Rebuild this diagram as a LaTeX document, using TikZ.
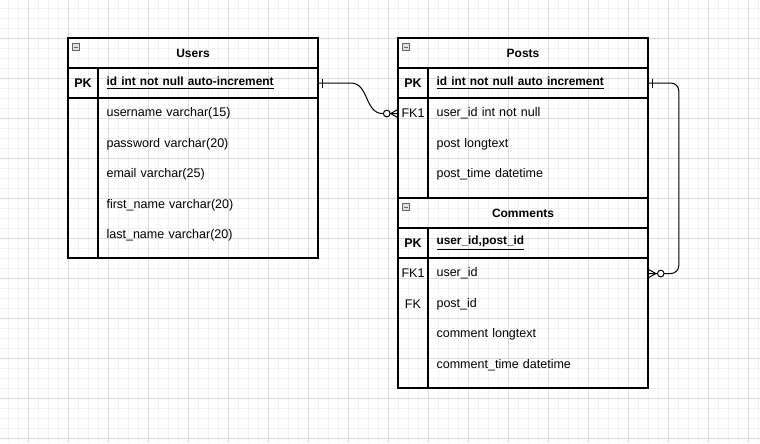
\documentclass[tikz,border=0pt]{standalone}
\usepackage{fontspec}
\setmainfont{Liberation Sans}
\usetikzlibrary{positioning,calc}

\tikzset{
  head/.style={draw, line width=0.8pt, minimum width=187.5pt, minimum height=22.5pt,
    inner sep=0pt, font=\fontsize{9}{11}\selectfont\bfseries},
  key/.style={minimum width=22.5pt, minimum height=22.5pt, inner sep=0pt},
  fld/.style={text width=153pt, inner xsep=6pt, inner ysep=0pt, minimum height=22.5pt, align=left},
  box/.style={line width=0.8pt},
  rel/.style={line width=0.75pt},
  toggle/.style={draw=black!60, fill=black!12, line width=0.5pt},
  minor/.style={black!5, line width=0.5pt},
  major/.style={black!14, line width=0.6pt},
}
\newcommand{\pkey}[1]{{\fontsize{8.9}{11}\selectfont\textbf{\underline{#1}}}}

\begin{document}
\begin{tikzpicture}[x=0.75pt, y=-0.75pt, font=\fontsize{9.4}{11}\selectfont]
  \useasboundingbox (0,0) rectangle (760,443);
  % grid paper
  \fill[white] (0,0) rectangle (760,443);
  \foreach \x in {8,18,...,758} \draw[minor] (\x,0) -- (\x,443);
  \foreach \y in {8,18,...,438} \draw[minor] (0,\y) -- (760,\y);
  \foreach \x in {28,68,...,748} \draw[major] (\x,0) -- (\x,443);
  \foreach \y in {38,78,...,438} \draw[major] (0,\y) -- (760,\y);

  % Users
  \node[head] (users) at (193,53) {Users};
  \draw[toggle] ($(users.north west)+(5,6)$) rectangle +(7,7);
  \draw[black!60, line width=0.5pt] ($(users.north west)+(6.5,9.5)$) -- +(4,0);
  \draw[box] (68,68) rectangle (318,258);
  \draw[box] (68,98) -- (318,98);
  \draw[box] (98,68) -- (98,258);
  \node[key] (u-pk) at (83,83) {\textbf{PK}};
  \node[fld, right=0pt of u-pk] (u-id) {\pkey{id int not null auto-increment}};
  \node[fld, below=0pt of u-id] (u-name) {username varchar(15)};
  \node[fld, below=0pt of u-name] (u-pass) {password varchar(20)};
  \node[fld, below=0pt of u-pass] (u-mail) {email varchar(25)};
  \node[fld, below=0pt of u-mail] (u-first) {first\_name varchar(20)};
  \node[fld, below=0pt of u-first] (u-last) {last\_name varchar(20)};

  % Posts
  \node[head] (posts) at (523,53) {Posts};
  \draw[toggle] ($(posts.north west)+(5,6)$) rectangle +(7,7);
  \draw[black!60, line width=0.5pt] ($(posts.north west)+(6.5,9.5)$) -- +(4,0);
  \draw[box] (398,68) rectangle (648,198);
  \draw[box] (398,98) -- (648,98);
  \draw[box] (428,68) -- (428,198);
  \node[key] (p-pk) at (413,83) {\textbf{PK}};
  \node[key, below=0pt of p-pk] (p-fk) {FK1};
  \node[fld, right=0pt of p-pk] (p-id) {\pkey{id int not null auto increment}};
  \node[fld, below=0pt of p-id] (p-uid) {user\_id int not null};
  \node[fld, below=0pt of p-uid] (p-text) {post longtext};
  \node[fld, below=0pt of p-text] (p-time) {post\_time datetime};

  % Comments
  \node[head] (comments) at (523,213) {Comments};
  \draw[toggle] ($(comments.north west)+(5,6)$) rectangle +(7,7);
  \draw[black!60, line width=0.5pt] ($(comments.north west)+(6.5,9.5)$) -- +(4,0);
  \draw[box] (398,228) rectangle (648,388);
  \draw[box] (398,258) -- (648,258);
  \draw[box] (428,228) -- (428,388);
  \node[key] (c-pk) at (413,243) {\textbf{PK}};
  \node[key, below=0pt of c-pk] (c-fk1) {FK1};
  \node[key, below=0pt of c-fk1] (c-fk) {FK};
  \node[fld, right=0pt of c-pk] (c-id) {\pkey{user\_id,post\_id}};
  \node[fld, below=0pt of c-id] (c-uid) {user\_id};
  \node[fld, below=0pt of c-uid] (c-pid) {post\_id};
  \node[fld, below=0pt of c-pid] (c-text) {comment longtext};
  \node[fld, below=0pt of c-text] (c-time) {comment\_time datetime};

  % Users 1 -- n Posts
  \draw[rel] (u-id.east) -- ++(32,0) .. controls +(18,0) and +(-18,0) .. ($(p-fk.west)+(-15,0)$) -- (p-fk.west);
  \draw[rel] ($(u-id.east)+(4,-4.5)$) -- +(0,9);
  \draw[rel] ($(p-fk.west)+(-7,0)$) -- +(7,-4) ($(p-fk.west)+(-7,0)$) -- +(7,4);
  \draw[rel, fill=white] ($(p-fk.west)+(-11,0)$) circle (2.5pt);

  % Posts 1 -- n Comments
  \draw[rel, rounded corners=6pt] (p-id.east) -- ++(30,0) |- (c-uid.east);
  \draw[rel] ($(p-id.east)+(4,-4.5)$) -- +(0,9);
  \draw[rel] ($(c-uid.east)+(7,0)$) -- +(-7,-4) ($(c-uid.east)+(7,0)$) -- +(-7,4);
  \draw[rel, fill=white] ($(c-uid.east)+(12,0)$) circle (2.5pt);
\end{tikzpicture}
\end{document}
